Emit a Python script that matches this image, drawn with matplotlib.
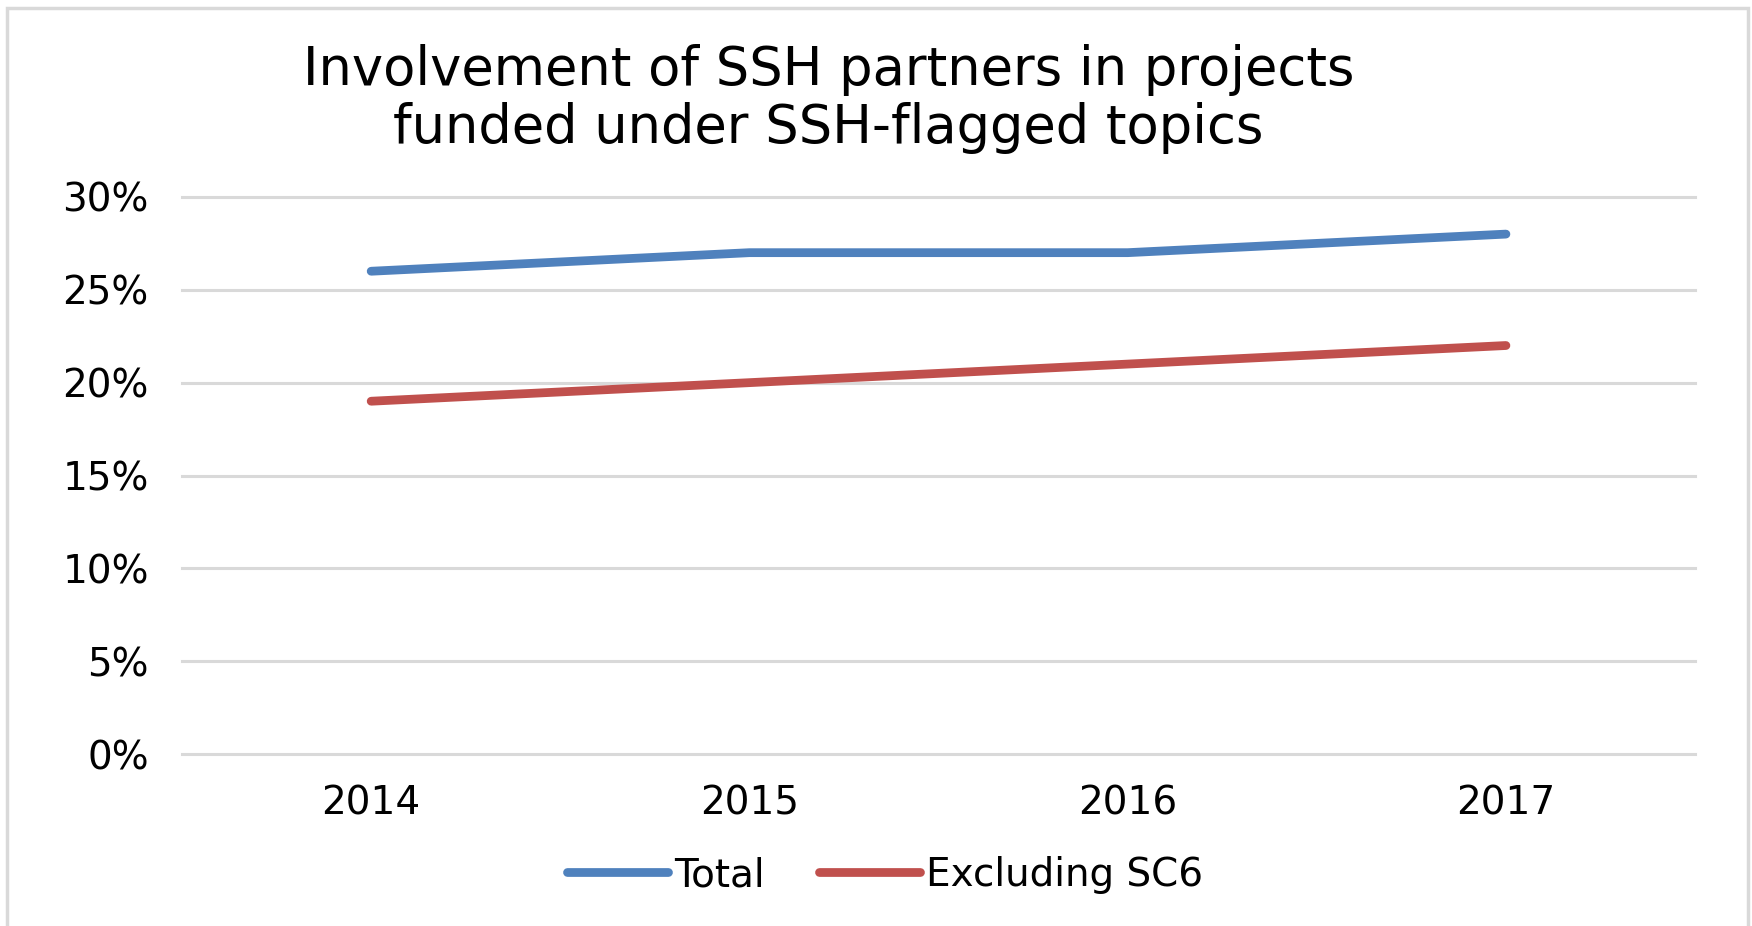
import matplotlib.pyplot as plt
import matplotlib as mpl
from matplotlib.patches import Rectangle
from matplotlib.ticker import PercentFormatter
import numpy as np

years = ['2014', '2015', '2016', '2017']
total = [0.26, 0.27, 0.27, 0.28]
excl_sc6 = [0.19, 0.20, 0.21, 0.22]
yticks = [0, 0.05, 0.10, 0.15, 0.20, 0.25, 0.30]

plt.rcParams['font.family'] = ['DejaVu Sans']

fig = plt.figure(figsize=(17.52, 9.26), dpi=100)
ax = fig.add_axes([0.1039, 0.1857, 0.8636, 0.6016])

x = np.arange(len(years))
ax.plot(x, total, color='#4f81bd', lw=6.3, solid_capstyle='round', label='Total')
ax.plot(x, excl_sc6, color='#c0504d', lw=6.3, solid_capstyle='round', label='Excluding SC6')

ax.set_xlim(-0.5, len(years) - 0.5)
ax.set_ylim(0, 0.30)
ax.set_xticks(x)
ax.set_xticklabels(years)
ax.set_yticks(yticks)
ax.yaxis.set_major_formatter(PercentFormatter(1.0, decimals=0))
ax.tick_params(axis='both', length=0, labelsize=28, colors='#000000')
ax.tick_params(axis='y', pad=24)
ax.tick_params(axis='x', pad=22)
ax.grid(axis='y', color='#d9d9d9', lw=2.2)
for gl in ax.get_ygridlines():
    gl.set_clip_on(False)
ax.set_axisbelow(True)
for s in ax.spines.values():
    s.set_visible(False)

fig.text(0.473, 0.893, 'Involvement of SSH partners in projects\nfunded under SSH-flagged topics',
         ha='center', va='center', fontsize=38, linespacing=1.16)

fig.legend(loc='center', bbox_to_anchor=(0.505, 0.055), ncol=2, frameon=False,
           fontsize=28, handlelength=2.6, handletextpad=0.15, columnspacing=1.4)

# light grey outer frame, open at the bottom
fig.patches.append(Rectangle((7 / 1752, -0.05), 1741 / 1752, 1.05 - 8 / 926,
                             transform=fig.transFigure, fill=False,
                             edgecolor='#d9d9d9', lw=2.5))

plt.savefig('out.png', dpi=100)
